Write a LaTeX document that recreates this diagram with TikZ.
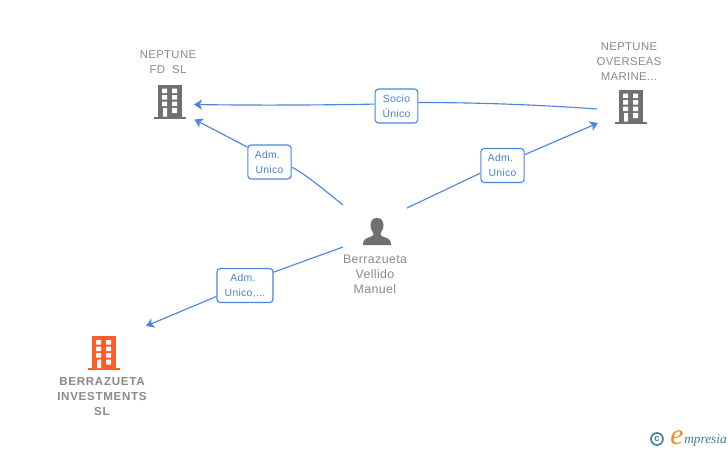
\documentclass[tikz,border=0pt]{standalone}
\usepackage{fontspec}
\setmainfont{Liberation Sans}
\newfontfamily\logofont{Liberation Serif}
\usetikzlibrary{arrows.meta}
\definecolor{edgeblue}{HTML}{4A86DE}
\definecolor{labblue}{HTML}{4A80D8}
\definecolor{nametxt}{HTML}{8A8A8A}
\definecolor{icongray}{HTML}{707070}
\definecolor{iconorange}{HTML}{FF5C2B}
\definecolor{logoteal}{HTML}{3F7F96}
\definecolor{logoorange}{HTML}{F08A1E}
\tikzset{
  edgeline/.style={draw=edgeblue,line width=0.85pt},
  tipped/.style={edgeline,-{Stealth[length=6pt,width=7.5pt,inset=1.6pt]}},
  edgelabel/.style={draw=edgeblue,line width=0.85pt,fill=white,rounded corners=2.5pt,inner sep=0pt,align=center,text=labblue,font=\fontsize{7.8}{11.25}\selectfont\addfontfeature{LetterSpace=3}},
  entname/.style={inner sep=0pt,align=center,text=nametxt,font=\fontsize{8.5}{11.25}\selectfont\addfontfeature{LetterSpace=3}},
  entnamebold/.style={inner sep=0pt,align=center,text=nametxt,font=\fontsize{8.7}{11.25}\selectfont\bfseries\addfontfeature{LetterSpace=6}},
  pername/.style={inner sep=0pt,align=center,text=nametxt,font=\fontsize{9.3}{11.25}\selectfont\addfontfeature{LetterSpace=3}},
  pics/bldg/.style={code={
    \fill[#1] (-10,-16.5) rectangle (14,15.5);
    \fill[#1] (-14,15.5) rectangle (18,17.5);
    \fill[white] (-6,-12.5) rectangle (-1,-8) (4,-12.5) rectangle (9,-8);
    \fill[white] (-6,-6) rectangle (-1,-1.5) (4,-6) rectangle (9,-1.5);
    \fill[white] (-6,0.5) rectangle (-1,5) (4,0.5) rectangle (9,5);
    \fill[white] (-5,7) rectangle (-1,15.5) (4,7) rectangle (9,12);
  }},
  pics/persona/.style={code={
    \fill[#1] (0,-13.5) .. controls (-5,-13.5) and (-6.5,-10) .. (-6.5,-7) .. controls (-6.5,-3) and (-5,0) .. (-3.5,2) .. controls (-3.5,4) and (-4,4.5) .. (-7,5.5) .. controls (-12,7) and (-14,8.5) .. (-14,13.5) -- (14,13.5) .. controls (14,8.5) and (12,7) .. (7,5.5) .. controls (4,4.5) and (3.5,4) .. (3.5,2) .. controls (5,0) and (6.5,-3) .. (6.5,-7) .. controls (6.5,-10) and (5,-13.5) .. (0,-13.5) -- cycle;
  }}
}
\begin{document}
\begin{tikzpicture}[x=0.75pt,y=-0.75pt]
\useasboundingbox (0,0) rectangle (728,450);
\fill[white] (0,0) rectangle (728,450);
% icons
\pic at (168,101) {bldg=icongray};
\pic at (629,106) {bldg=icongray};
\pic at (102,352.5) {bldg=iconorange};
\pic at (377,231.5) {persona=icongray};
% names
\node[entname] (nfd) at (168,62.5) {NEPTUNE\\FD\ \ SL};
\node[entname] (nom) at (629,61.5) {NEPTUNE\\OVERSEAS\\MARINE...};
\node[entnamebold] (bis) at (102,397) {BERRAZUETA\\INVESTMENTS\\SL};
\node[pername] (bvm) at (375,274) {Berrazueta\\Vellido\\Manuel};
% connector ends
\coordinate (tfd1) at (194,104.5);
\coordinate (tfd2) at (194.5,119.5);
\coordinate (snom) at (597,109);
\coordinate (tnom) at (598,123);
\coordinate (tbis) at (146,326);
\coordinate (pa) at (343,205);
\coordinate (pb) at (407,208);
\coordinate (pc) at (343,247);
% labels
\node[edgelabel,minimum width=32pt,minimum height=25.5pt] (l1) at (396.5,106) {Socio\\Único};
\node[edgelabel,minimum width=32.5pt,minimum height=25.5pt] (l2) at (269.5,162) {Adm.\kern3pt\\Unico};
\node[edgelabel,minimum width=32.5pt,minimum height=25.5pt] (l3) at (502.5,165.5) {Adm.\kern3pt\\Unico};
\node[edgelabel,minimum width=42pt,minimum height=25.5pt] (l4) at (245,285.5) {Adm.\kern3pt\\Unico,...};
% connectors
\draw[edgeline] (snom) .. controls (520,103.5) and (460,102.5) .. (l1.9);
\draw[tipped] (l1.175) .. controls (330,105) and (260,105.5) .. (tfd1);
\draw[edgeline] (pa) .. controls (322,188) and (305,174) .. (l2.-13);
\draw[tipped] (l2.146) -- (tfd2);
\draw[edgeline] (pb) -- (l3.199);
\draw[tipped] (l3.26) -- (tnom);
\draw[edgeline] (pc) -- (l4.25.7);
\draw[tipped] (l4.201) -- (tbis);
% logo
\node[circle,draw=logoteal,line width=1.2pt,minimum size=9pt,inner sep=0pt,text=logoteal,font=\fontsize{7}{7}\selectfont\bfseries] (copyr) at (657,439) {c};
\node[inner sep=0pt,anchor=base west,text=logoorange,font=\fontsize{22}{22}\logofont\itshape] (loge) at (670,444.5) {e};
\node[inner sep=0pt,anchor=base west,text=logoteal,font=\fontsize{10}{10}\logofont\itshape] (logt) at (684,443) {mpresia};
\end{tikzpicture}
\end{document}
